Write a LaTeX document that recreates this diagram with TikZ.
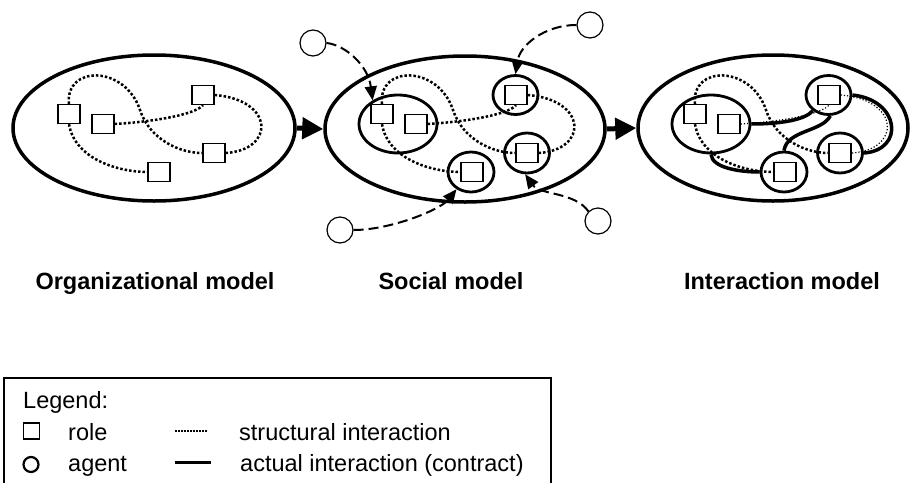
\documentclass[tikz,border=0pt]{standalone}
\usepackage{fontspec}
\setmainfont{Liberation Sans}
\usetikzlibrary{shapes.geometric,arrows.meta}
\begin{document}
\begin{tikzpicture}[x=1pt,y=-1pt,
 role/.style={draw,rectangle,minimum width=22pt,minimum height=19pt,inner sep=0pt,line width=1.3pt},
 model/.style={draw,ellipse,line width=3.5pt,inner sep=0pt,minimum height=146pt},
 agentc/.style={draw,ellipse,line width=2.8pt,inner sep=0pt},
 extagent/.style={draw,circle,minimum size=26pt,inner sep=0pt,line width=1.2pt},
 dotl/.style={line width=2.5pt,dash pattern=on 2.5pt off 2pt},
 contract/.style={line width=3.5pt},
 joinarrow/.style={line width=2pt,dash pattern=on 10pt off 5pt,-{Triangle[length=14pt,width=12pt]}},
 flow/.style={line width=5pt,-{Triangle[length=21pt,width=21pt]}},
 title/.style={font=\fontsize{23.5}{27}\selectfont\bfseries,anchor=base,inner sep=0pt},
 leg/.style={font=\fontsize{23.5}{27}\selectfont,anchor=base west,inner sep=0pt}
]
\useasboundingbox (0,0) rectangle (910,482);

% model ellipses
\node[model,minimum width=282pt] (OM) at (154,128) {};
\node[model,minimum width=280pt] (SM) at (465,129) {};
\node[model,minimum width=270pt] (IM) at (773,128) {};
\draw[flow] (OM.east) -- (SM.west);
\draw[flow] (SM.east) -- (IM.west);

% roles and structural interactions
\foreach \p/\dx/\lw in {a/0/2.5, b/313/2.5, c/626/1.2}{
 \begin{scope}[xshift=\dx pt]
  \node[role] (\p1) at (69,114) {};
  \node[role] (\p2) at (103,124) {};
  \node[role] (\p3) at (203,95) {};
  \node[role] (\p4) at (214,153) {};
  \node[role] (\p5) at (159,172) {};
  \draw[dotl] (\p1.north) .. controls (65,65) and (125,65) .. (140,110) .. controls (150,140) and (180,153) .. (\p4.west);
  \draw[dotl] (\p1.south) .. controls (75,160) and (120,172) .. (\p5.west);
  \draw[line width=\lw pt,dash pattern=on \lw pt off 2pt] (\p2.east) .. controls (150,122) and (195,115) .. (\p3.south);
  \draw[line width=\lw pt,dash pattern=on \lw pt off 2pt] (\p3.east) .. controls (275,100) and (275,150) .. (\p4.east);
 \end{scope}
}

% agents
\foreach \p/\dx in {b/313, c/626}{
 \begin{scope}[xshift=\dx pt]
  \node[agentc,minimum width=78pt,minimum height=58pt] (\p E) at (85,124) {};
  \node[agentc,minimum width=45pt,minimum height=39pt] (\p C3) at (202.5,95) {};
  \node[agentc,minimum width=45pt,minimum height=40pt] (\p C4) at (214,153) {};
  \node[agentc,minimum width=46pt,minimum height=40pt] (\p C5) at (158,172) {};
 \end{scope}
}

% contracts
\draw[contract] (cE.east) .. controls (780,124) and (805,120) .. (cC3.-135);
\draw[contract] (cC3.-85) .. controls (822,132) and (787,130) .. (cC5.north);
\draw[contract] (cC3.east) .. controls (900,100) and (905,150) .. (cC4.east);
\draw[contract] (cE.south) .. controls (712,168) and (740,172) .. (cC5.west);

% external agents joining
\node[extagent] (x1) at (313,43) {};
\node[extagent] (x2) at (590,25) {};
\node[extagent] (x3) at (340,230) {};
\node[extagent] (x4) at (598,221) {};
\draw[joinarrow] (x1.east) .. controls (345,45) and (368,65) .. (bE.137);
\draw[joinarrow] (x2.west) .. controls (545,25) and (520,45) .. (bC3.north);
\draw[joinarrow] (x3.east) .. controls (390,230) and (440,210) .. (bC5.-130);
\draw[joinarrow] (x4.135) .. controls (575,192) and (540,195) .. (bC4.-95);

% titles
\node[title] (t1) at (155,289) {Organizational model};
\node[title] (t2) at (451,289) {Social model};
\node[title] (t3) at (782,289) {Interaction model};

% legend
\draw[line width=1.2pt] (4,378) rectangle (551,486);
\node[leg] (lg) at (23,408) {Legend:};
\node[draw,line width=1.1pt,minimum size=16pt,inner sep=0pt] (lsq) at (31.5,431) {};
\node[leg] (lrole) at (68,440) {role};
\node[draw,circle,line width=2.2pt,minimum size=15pt,inner sep=0pt] (lci) at (31,464.5) {};
\node[leg] (lagent) at (68,471) {agent};
\coordinate (d1) at (175,431);
\coordinate (d2) at (208,431);
\draw[line width=1.5pt,dash pattern=on 1.5pt off 1.5pt] (d1) -- (d2);
\coordinate (s1) at (175,462);
\coordinate (s2) at (211,462);
\draw[line width=3pt] (s1) -- (s2);
\node[leg] (lst) at (239,440) {structural interaction};
\node[leg] (lact) at (240,471) {actual interaction (contract)};
\end{tikzpicture}
\end{document}
